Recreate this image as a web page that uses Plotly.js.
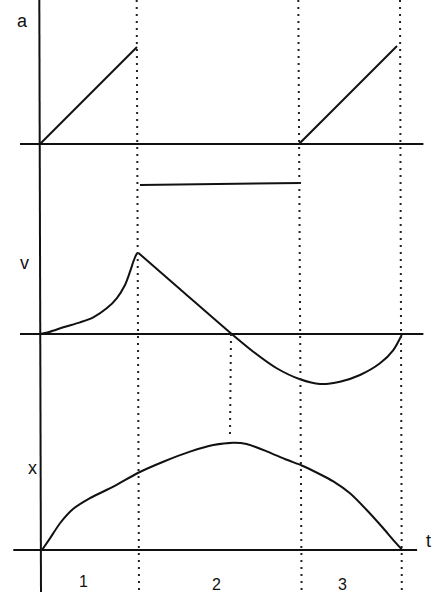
<!DOCTYPE html>
<html>
<head>
<meta charset="utf-8">
<script src="https://cdn.plot.ly/plotly-3.0.1.min.js"></script>
<style>html,body{margin:0;padding:0;background:#fff;}#chart{width:448px;height:600px;}</style>
</head>
<body>
<div id="chart"></div>
<script>
// ---- data (t in arbitrary time units, quantities in arbitrary units) ----
// acceleration a(t), three phases (null separates pieces)
var aT = [0, 3.233, null, 3.333, 8.70, null, 8.633, 11.90];
var aV = [0, 1.00, null, -0.423, -0.402, null, 0, 1.01];

// velocity v(t): rising part (phase 1)
var v1T = [0.017, 0.333, 0.777, 1.333, 1.777, 2.223, 2.557, 2.833, 3.0, 3.133, 3.223, 3.283];
var v1V = [0, 0.028, 0.083, 0.144, 0.206, 0.317, 0.441, 0.605, 0.769, 0.914, 0.988, 1.0];
// velocity v(t): falling part (phases 2 and 3)
var v2T = [3.283, 4.833, 6.39, 7.11, 7.89, 8.667, 9.333, 10.0, 10.667, 11.333, 11.777, 12.057];
var v2V = [1.0, 0.50, 0, -0.219, -0.423, -0.559, -0.617, -0.589, -0.506, -0.362, -0.198, -0.012];

// position x(t)
var xT = [0.067, 0.333, 0.667, 1.11, 1.667, 2.443, 3.277, 4.11, 5.0, 5.777, 6.443, 6.89, 7.557, 8.223, 8.723, 9.333, 9.777, 10.333, 10.89, 11.443, 11.777, 12.057];
var xV = [0, 0.109, 0.25, 0.385, 0.485, 0.592, 0.722, 0.825, 0.919, 0.981, 1.003, 0.991, 0.922, 0.843, 0.790, 0.708, 0.641, 0.530, 0.374, 0.203, 0.093, 0.007];

// phase labels
var phaseLabels = ['1', '2', '3'];
var phaseLabelT = [1.443, 5.867, 10.09];
// axis labels
var quantityLabels = ['a', 'v', 'x'];

// ---- drawing ----
var ink = '#111';
var lw = 2;
var traces = [
  {x: aT, y: aV, xaxis: 'x', yaxis: 'y', mode: 'lines', line: {color: ink, width: lw}, connectgaps: false},
  {x: v1T, y: v1V, xaxis: 'x', yaxis: 'y2', mode: 'lines', line: {color: ink, width: lw, shape: 'spline', smoothing: 0.8}},
  {x: v2T, y: v2V, xaxis: 'x', yaxis: 'y2', mode: 'lines', line: {color: ink, width: lw, shape: 'spline', smoothing: 0.8}},
  {x: xT, y: xV, xaxis: 'x', yaxis: 'y3', mode: 'lines', line: {color: ink, width: lw, shape: 'spline', smoothing: 0.6}}
];

var dotLine = {color: '#222', width: 2, dash: '2px,5px'};
var solid = {color: ink, width: lw};
var shapes = [
  // vertical (value) axis
  {type: 'line', xref: 'x', yref: 'paper', x0: -0.023, x1: 0.033, y0: 1, y1: 1 - 592 / 600, line: solid},
  // horizontal axes (zero lines)
  {type: 'line', xref: 'x', yref: 'y', x0: -0.667, x1: 12.78, y0: 0, y1: 0, line: solid},
  {type: 'line', xref: 'x', yref: 'y2', x0: -0.667, x1: 12.78, y0: 0, y1: 0, line: solid},
  {type: 'line', xref: 'x', yref: 'y3', x0: -0.89, x1: 12.57, y0: 0, y1: 0, line: solid},
  // dotted phase boundaries
  {type: 'line', xref: 'x', yref: 'paper', x0: 3.223, x1: 3.30, y0: 1, y1: 1 - 592 / 600, line: dotLine},
  {type: 'line', xref: 'x', yref: 'paper', x0: 8.61, x1: 8.72, y0: 1, y1: 1 - 592 / 600, line: dotLine},
  {type: 'line', xref: 'x', yref: 'paper', x0: 12.0, x1: 12.06, y0: 1, y1: 1 - 592 / 600, line: dotLine},
  // dotted link from v=0 crossing down to x maximum
  {type: 'line', xref: 'x', yref: 'paper', x0: 6.367, x1: 6.333, y0: 1 - 334 / 600, y1: 1 - 435 / 600, line: dotLine}
];

var font = {family: '"Liberation Sans", Arial, sans-serif', size: 18, color: ink};
var numFont = {family: '"Liberation Sans", Arial, sans-serif', size: 16, color: ink};
var annotations = [
  {text: quantityLabels[0], xref: 'paper', yref: 'paper', x: 22 / 448, y: 1 - 21 / 600},
  {text: quantityLabels[1], xref: 'paper', yref: 'paper', x: 24 / 448, y: 1 - 263 / 600},
  {text: quantityLabels[2], xref: 'paper', yref: 'paper', x: 32 / 448, y: 1 - 468 / 600},
  {text: 't', xref: 'paper', yref: 'paper', x: 428 / 448, y: 1 - 541 / 600}
].map(function (a) { a.showarrow = false; a.xanchor = 'center'; a.yanchor = 'middle'; a.font = font; return a; });
var phaseLabelY = [1 - 581 / 600, 1 - 584.5 / 600, 1 - 584.5 / 600];
phaseLabels.forEach(function (lab, i) {
  annotations.push({text: lab, xref: 'x', yref: 'paper', x: phaseLabelT[i], y: phaseLabelY[i],
    showarrow: false, xanchor: 'center', yanchor: 'middle', font: numFont});
});

var hidden = {visible: true, showgrid: false, zeroline: false, showticklabels: false, ticks: '', showline: false, fixedrange: true};
var layout = {
  width: 448, height: 600,
  margin: {l: 0, r: 0, t: 0, b: 0, pad: 0},
  paper_bgcolor: '#fff', plot_bgcolor: '#fff',
  showlegend: false,
  xaxis: Object.assign({}, hidden, {range: [-4 / 3, 13.6], domain: [0, 1]}),
  yaxis: Object.assign({}, hidden, {range: [-56 / 97, 144 / 97], domain: [2 / 3, 1]}),
  yaxis2: Object.assign({}, hidden, {range: [-66 / 81, 134 / 81], domain: [1 / 3, 2 / 3]}),
  yaxis3: Object.assign({}, hidden, {range: [-50 / 107, 150 / 107], domain: [0, 1 / 3]}),
  shapes: shapes,
  annotations: annotations
};

Plotly.newPlot('chart', traces, layout, {staticPlot: true, displayModeBar: false});
</script>
</body>
</html>
